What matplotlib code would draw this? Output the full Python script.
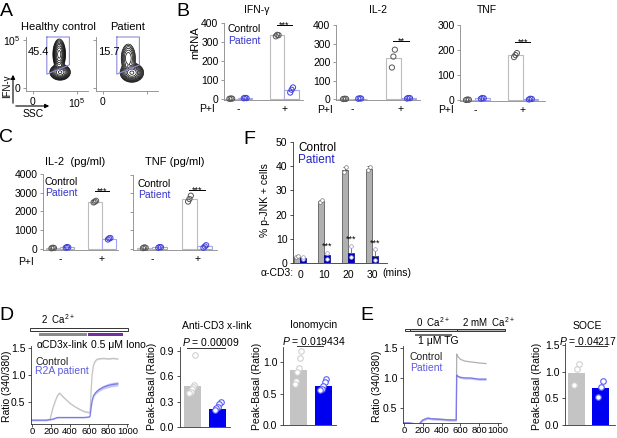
import numpy as np
import matplotlib.pyplot as plt
import matplotlib.transforms as mtransforms
from matplotlib.patches import Rectangle, FancyArrowPatch

plt.rcParams['font.family'] = ['Liberation Sans', 'DejaVu Sans']
plt.rcParams['mathtext.fontset'] = 'custom'
plt.rcParams['mathtext.rm'] = 'Liberation Sans'
plt.rcParams['mathtext.it'] = 'Liberation Sans:italic'
plt.rcParams['mathtext.default'] = 'regular'

# ---------------- data ----------------
# A: flow populations (x centre, y centre, x sd, y sd, fraction), axes 0..1 = 0..10^5
flow_titles = ['Healthy control', 'Patient']
flow_gate_pct = ['45.4', '15.7']
flow_pops = [
    [(0.60, 0.70, 0.045, 0.10, 0.45), (0.62, 0.33, 0.07, 0.05, 0.55)],
    [(0.58, 0.62, 0.06, 0.11, 0.16), (0.66, 0.32, 0.08, 0.06, 0.84)],
]
gate_x = [0.32, 0.83, 0.83, 0.32, 0.32]
gate_y = [1.06, 1.06, 0.48, 0.29, 1.06]

# B: mRNA, stim = P+I - / +
stim = ['-', '+']
ifng_ctrl = [3, 335]
ifng_pat = [6, 47]
ifng_ctrl_pts = [[2, 4, 3], [330, 338, 336]]
ifng_pat_pts = [[5, 7, 6], [35, 50, 62]]
il2m_ctrl = [2, 224]
il2m_pat = [4, 6]
il2m_ctrl_pts = [[1, 3, 2], [171, 230, 267]]
il2m_pat_pts = [[3, 5, 4], [4, 7, 6]]
tnfm_ctrl = [2, 180]
tnfm_pat = [8, 5]
tnfm_ctrl_pts = [[1, 3, 2], [172, 180, 188]]
tnfm_pat_pts = [[6, 9, 8], [3, 6, 5]]

# C: protein (pg/ml)
il2p_ctrl = [50, 2520]
il2p_pat = [80, 540]
il2p_ctrl_pts = [[30, 60, 50], [2480, 2520, 2570]]
il2p_pat_pts = [[60, 100, 80], [500, 560, 580]]
tnfp_ctrl = [60, 2700]
tnfp_pat = [80, 130]
tnfp_ctrl_pts = [[40, 80, 60], [2560, 2700, 2880]]
tnfp_pat_pts = [[60, 100, 90], [60, 130, 200]]

# F: p-JNK
cd3_minutes = ['0', '10', '20', '30']
jnk_ctrl = [2.5, 25.5, 38.5, 39.0]
jnk_ctrl_err = [0.3, 0.5, 1.0, 1.0]
jnk_pat = [2.0, 3.3, 4.0, 2.8]
jnk_pat_err = [0.4, 1.0, 3.0, 2.5]
jnk_ctrl_pts = [[2.3, 2.8], [25.4, 25.9], [37.8, 39.6], [38.3, 39.8]]
jnk_pat_pts = [[1.6, 2.3], [1.8, 4.3], [2.6, 7.0], [1.3, 5.6]]
jnk_sig_y = [7.0, 10.0, 8.3]

# D: Ca2+ trace, anti-CD3 then ionomycin
d_time = [0, 50, 100, 150, 190, 220, 250, 270, 290, 310, 350, 400, 450, 500,
          550, 600, 610, 620, 630, 645, 660, 680, 700, 750, 800, 850, 900]
d_ctrl = [0.17, 0.17, 0.17, 0.17, 0.19, 0.40, 0.55, 0.63, 0.67, 0.63, 0.56,
          0.48, 0.42, 0.37, 0.33, 0.31, 0.34, 0.70, 1.00, 1.18, 1.25, 1.29,
          1.30, 1.31, 1.30, 1.31, 1.30]
d_pat = [0.17, 0.17, 0.17, 0.17, 0.18, 0.19, 0.21, 0.22, 0.22, 0.22, 0.22,
         0.22, 0.22, 0.22, 0.22, 0.23, 0.25, 0.40, 0.52, 0.62, 0.66, 0.70,
         0.73, 0.78, 0.81, 0.83, 0.84]
d_ctrl_sem = 0.015
d_pat_sem = [0.01] * 16 + [0.01, 0.02, 0.025, 0.03, 0.03, 0.03, 0.035, 0.035,
                           0.04, 0.04, 0.04]
d_cd3_window = (75, 580)
d_iono_window = (590, 955)
d_bath_window = (-20, 1005)

anti_cd3 = [0.49, 0.21]
anti_cd3_pts = [[0.85, 0.50, 0.47, 0.45, 0.42, 0.40], [0.30, 0.27, 0.24, 0.22, 0.20]]
iono = [0.87, 0.62]
iono_pts = [[1.18, 1.07, 0.90, 0.85, 0.70, 0.65], [0.73, 0.69, 0.62, 0.58, 0.55]]

# E: TG store depletion then 2 mM Ca2+
e_time = [0, 50, 100, 130, 160, 200, 250, 300, 400, 500, 555, 560, 570,
          600, 650, 700, 750, 800, 870]
e_ctrl = [0.25, 0.25, 0.24, 0.22, 0.23, 0.30, 0.33, 0.32, 0.31, 0.30, 0.30,
          1.40, 1.36, 1.31, 1.28, 1.27, 1.26, 1.25, 1.24]
e_pat = [0.25, 0.25, 0.24, 0.22, 0.23, 0.30, 0.33, 0.32, 0.31, 0.30, 0.30,
         1.05, 1.03, 1.01, 1.00, 1.00, 0.99, 0.98, 0.98]
e_pat_sem = 0.02
e_free_window = (10, 64)
e_zero_ca_window = (64, 560)
e_ca_window = (560, 1074)
e_tg_window = (122, 511)

soce = [0.97, 0.70]
soce_pts = [[1.15, 1.05, 0.75], [0.82, 0.72, 0.52]]

# ---------------- styling ----------------
CTRL_EDGE = '#bcbcbc'
PAT_EDGE = '#a6a6ec'
CTRL_PT = '#555555'
PAT_PT = '#4040d8'
PAT_TXT = '#3535cc'
GRAY_BAR = '#c4c4c4'
BLUE_BAR = '#0000f0'

W, H = 617, 438
fig = plt.figure(figsize=(W / 100, H / 100), dpi=100)
pix = mtransforms.Affine2D().scale(1 / W, -1 / H).translate(0, 1) + fig.transFigure


def px_axes(x0, y0, x1, y1):
    return fig.add_axes([x0 / W, 1 - y1 / H, (x1 - x0) / W, (y1 - y0) / H])


def ptext(x, y, s, size=7, ha='center', va='center', **kw):
    fig.text(x / W, 1 - y / H, s, fontsize=size, ha=ha, va=va, **kw)


def style(ax, color='#555555', labelsize=6.5):
    for s in ['top', 'right']:
        ax.spines[s].set_visible(False)
    for s in ['left', 'bottom']:
        ax.spines[s].set_color(color)
        ax.spines[s].set_linewidth(0.6)
    ax.tick_params(labelsize=labelsize, length=2.5, width=0.6, color=color, pad=1.5)


# panel letters
for letter, (lx, ly) in zip('ABCFDE', [(6, 12), (183, 12), (6, 137), (249, 140),
                                      (6, 316), (367, 316)]):
    ptext(lx, ly, letter, size=14)

# ---------------- A ----------------
gx = np.linspace(-0.15, 1.25, 240)
gy = np.linspace(-0.06, 1.06, 240)
GX, GY = np.meshgrid(gx, gy)
for k, x0 in enumerate([26, 96]):
    ax = px_axes(x0, 37, x0 + 62, 91)
    Z = np.zeros_like(GX)
    for cx, cy, sx, sy, f in flow_pops[k]:
        Z += f / (sx * sy) * np.exp(-((GX - cx) ** 2 / (2 * sx ** 2) + (GY - cy) ** 2 / (2 * sy ** 2)))
    levels = Z.max() * np.geomspace(0.004, 0.85, 10)
    ax.contour(GX, GY, Z, levels, colors='k', linewidths=0.5)
    ax.plot(gate_x, gate_y, color='#8c8cdc', lw=0.8, clip_on=False)
    ax.set_xlim(-0.15, 1.25)
    ax.set_ylim(-0.06, 1.06)
    style(ax, color='#888888')
    ax.set_xticks([0, 1])
    ax.set_yticks([0, 1])
    ax.set_xticklabels(['0', '10$^5$'] if k == 0 else ['0', ''], fontsize=7.5)
    ax.set_yticklabels(['0', '10$^5$'] if k == 0 else ['', ''], fontsize=7.5)
    ptext(x0 + 32, 27, flow_titles[k], size=8)
    ptext(x0 + 2, 52, flow_gate_pct[k], size=8, ha='left')

fig.add_artist(FancyArrowPatch((13, 106), (13, 72), arrowstyle='-|>', mutation_scale=6,
                               lw=0.8, color='k', transform=pix))
fig.add_artist(FancyArrowPatch((13, 106), (52, 106), arrowstyle='-|>', mutation_scale=6,
                               lw=0.8, color='k', transform=pix))
ptext(7, 86, 'IFN-γ', size=7, rotation=90)
ptext(33, 114, 'SSC', size=7.5)


# ---------------- B / C ----------------
def cyto_panel(ax, ctrl, pat, ctrl_pts, pat_pts, ylim, yticks, sig, sig_y, w=0.31,
               xlim=(-0.3, 1.4), ticklabels=True):
    x = np.arange(len(stim))
    ax.bar(x - w / 2, ctrl, w, color='white', edgecolor=CTRL_EDGE, lw=0.8, zorder=2)
    ax.bar(x + w / 2, pat, w, color='white', edgecolor=PAT_EDGE, lw=0.8, zorder=2)
    for i in x:
        off = np.linspace(-0.03, 0.03, len(ctrl_pts[i]))
        ax.scatter(i - w / 2 + off, ctrl_pts[i], s=14, facecolors='none',
                   edgecolors=CTRL_PT, lw=0.7, zorder=3, clip_on=False)
        off = np.linspace(-0.03, 0.03, len(pat_pts[i]))
        ax.scatter(i + w / 2 + off, pat_pts[i], s=14, facecolors='none',
                   edgecolors=PAT_PT, lw=0.7, zorder=3, clip_on=False)
    ax.plot([1 - w / 2, 1 + w / 2], [sig_y, sig_y], color='k', lw=0.7, clip_on=False)
    ax.text(1, sig_y, sig, ha='center', va='center', fontsize=6.5)
    ax.set_xlim(*xlim)
    ax.set_ylim(*ylim)
    ax.set_yticks(yticks)
    ax.set_xticks(x)
    ax.set_xticklabels(stim, fontsize=7.5)
    style(ax, color='#888888', labelsize=7.5)
    ax.tick_params(axis='x', length=0, pad=3)
    if not ticklabels:
        ax.set_yticklabels([])


ax = px_axes(224, 23, 303, 100)
cyto_panel(ax, ifng_ctrl, ifng_pat, ifng_ctrl_pts, ifng_pat_pts, (-4, 400),
           [0, 100, 200, 300, 400], '***', 390)
ptext(257, 10, 'IFN-γ', size=7.5)
ptext(195, 43, 'mRNA', size=8, rotation=90)
ptext(207, 109, 'P+I', size=7.5)
ptext(228, 29, 'Control', size=7.5, ha='left')
ptext(228, 41, 'Patient', size=7.5, ha='left', color=PAT_TXT)

ax = px_axes(336, 25, 420, 100)
cyto_panel(ax, il2m_ctrl, il2m_pat, il2m_ctrl_pts, il2m_pat_pts, (-4, 400),
           [0, 100, 200, 300, 400], '**', 315, xlim=(-0.33, 1.39))
ptext(378, 10, 'IL-2', size=7.5)
ptext(325, 110, 'P+I', size=7.5)

ax = px_axes(460, 25, 545, 101)
cyto_panel(ax, tnfm_ctrl, tnfm_pat, tnfm_ctrl_pts, tnfm_pat_pts, (-3, 300),
           [0, 100, 200, 300], '***', 233, xlim=(-0.31, 1.46))
ptext(487, 10, 'TNF', size=7.5)
ptext(446, 110, 'P+I', size=7.5)

ax = px_axes(43, 174, 118, 250)
cyto_panel(ax, il2p_ctrl, il2p_pat, il2p_ctrl_pts, il2p_pat_pts, (-60, 4000),
           [0, 1000, 2000, 3000, 4000], '***', 3100, w=0.34, xlim=(-0.4, 1.38))
ptext(75, 162, 'IL-2  (pg/ml)', size=8)
ptext(26, 262, 'P+I', size=7.5)
ptext(45, 182, 'Control', size=7.5, ha='left')
ptext(45, 193, 'Patient', size=7.5, ha='left', color=PAT_TXT)

ax = px_axes(133, 175, 217, 250)
cyto_panel(ax, tnfp_ctrl, tnfp_pat, tnfp_ctrl_pts, tnfp_pat_pts, (-60, 4000),
           [0, 1000, 2000, 3000, 4000], '***', 3200, w=0.34, xlim=(-0.42, 1.44),
           ticklabels=False)
ptext(175, 162, 'TNF (pg/ml)', size=8)
ptext(138, 184, 'Control', size=7.5, ha='left')
ptext(138, 195, 'Patient', size=7.5, ha='left', color=PAT_TXT)

# ---------------- F ----------------
ax = px_axes(293, 142, 387, 263)
x = np.arange(len(cd3_minutes))
bw = 0.25
ax.bar(x - 0.13, jnk_ctrl, bw, color='#b0b0b0', edgecolor='#444444', lw=0.5, zorder=2)
ax.bar(x + 0.13, jnk_pat, bw, color='#0000c8', edgecolor='#000080', lw=0.5, zorder=2)
ax.errorbar(x - 0.13, jnk_ctrl, yerr=[np.zeros(4), jnk_ctrl_err], fmt='none',
            ecolor='#444444', elinewidth=0.6, capsize=1.2, capthick=0.6, zorder=3)
ax.errorbar(x + 0.13, jnk_pat, yerr=[np.zeros(4), jnk_pat_err], fmt='none',
            ecolor='#666666', elinewidth=0.6, capsize=1.2, capthick=0.6, zorder=3)
for i in x:
    ax.scatter(np.full(2, i - 0.13) + [-0.03, 0.03], jnk_ctrl_pts[i], s=7,
               facecolors='white', edgecolors='#777777', lw=0.5, zorder=4)
    ax.scatter(np.full(2, i + 0.13), jnk_pat_pts[i], s=7,
               facecolors='white', edgecolors='#9999cc', lw=0.5, zorder=4)
for i, yv in zip(x[1:], jnk_sig_y):
    ax.text(i + 0.13, yv, '***', ha='center', va='center', fontsize=6.5)
ax.set_xlim(-0.3, 3.62)
ax.set_ylim(0, 50)
ax.set_yticks([0, 10, 20, 30, 40, 50])
ax.set_xticks(x)
ax.set_xticklabels(cd3_minutes)
style(ax, color='#333333', labelsize=7.5)
ax.tick_params(axis='x', length=0, pad=5)
ptext(265, 200, '% p-JNK + cells', size=7.5, rotation=90)
ptext(298, 148, 'Control', size=8.5, ha='left')
ptext(298, 160, 'Patient', size=8.5, ha='left', color='#2222cc')
ptext(277, 273, 'α-CD3:', size=7.5)
ptext(397, 273, '(mins)', size=7.5)

# ---------------- D ----------------
ax = px_axes(31, 346, 128, 424)
ax.fill_between(d_time, np.array(d_ctrl) - d_ctrl_sem, np.array(d_ctrl) + d_ctrl_sem,
                color='#e4e4e4', lw=0)
ax.plot(d_time, d_ctrl, color='#c4c4c4', lw=0.9)
ax.fill_between(d_time, np.array(d_pat) - np.array(d_pat_sem),
                np.array(d_pat) + np.array(d_pat_sem), color='#c6c6f4', lw=0)
ax.plot(d_time, d_pat, color='#7a7aea', lw=0.9)
ax.set_xlim(-10, 1007)
ax.set_ylim(0.1, 1.537)
ax.set_yticks([0.5, 1.0, 1.5])
ax.set_xticks(range(0, 1001, 200))
style(ax, color='#333333', labelsize=7.5)
ax.tick_params(axis='x', pad=0.5, length=2, labelsize=6.8)
tr = mtransforms.blended_transform_factory(ax.transData, ax.transAxes)
b0, b1 = d_bath_window
ax.add_patch(Rectangle((b0, 1.19), b1 - b0, 0.04, transform=tr, facecolor='white',
                       edgecolor='#333333', lw=0.7, clip_on=False))
c0, c1 = d_cd3_window
ax.add_patch(Rectangle((c0, 1.125), c1 - c0, 0.04, transform=tr, facecolor='#8a8a8a',
                       edgecolor='none', clip_on=False))
i0, i1 = d_iono_window
ax.add_patch(Rectangle((i0, 1.125), i1 - i0, 0.04, transform=tr, facecolor='#7030a0',
                       edgecolor='none', clip_on=False))
ptext(58, 319, '2  Ca$^{2+}$', size=7)
ptext(62, 345, 'αCD3x-link', size=7.5)
ptext(118, 345, '0.5 μM Iono', size=7.5)
ptext(35, 362, 'Control', size=7.5, ha='left', color='#222222')
ptext(35, 371, 'R2A patient', size=7.5, ha='left', color='#5c5ce0')
ptext(7, 386, 'Ratio (340/380)', size=7.5, rotation=90)


def ratio_bars(ax, means, pts, ylim, yticks, xlim, p_x, p_y):
    x = np.arange(2)
    ax.bar(x, means, 0.68, color=[GRAY_BAR, BLUE_BAR], zorder=1)
    for i, p in enumerate(pts):
        off = np.linspace(0.12, -0.12, len(p))
        ax.scatter(i + off, p, s=16, facecolors='white',
                   edgecolors=['#d0d0d0', '#5a5aff'][i], lw=0.8, zorder=3, clip_on=False)
    ax.plot(p_x, [p_y, p_y], color='#333333', lw=0.7, clip_on=False)
    ax.set_xlim(*xlim)
    ax.set_ylim(*ylim)
    ax.set_yticks(yticks)
    ax.set_xticks([])
    style(ax, color='#333333', labelsize=7.5)


ax = px_axes(180, 347, 230, 427)
ratio_bars(ax, anti_cd3, anti_cd3_pts, (0, 0.947), [0.0, 0.3, 0.6, 0.9],
           (-0.5, 1.5), [-0.22, 1.3], 0.935)
ptext(217, 326, 'Anti-CD3 x-link', size=7.5)
ptext(211, 342, '$\\mathit{P}$ = 0.00009', size=7.5)
ptext(152, 386, 'Peak-Basal (Ratio)', size=7.5, rotation=90)

ax = px_axes(283, 347, 336, 425)
ratio_bars(ax, iono, iono_pts, (0, 1.24), [0.0, 0.5, 1.0], (-0.6, 1.52),
           [-0.04, 1.0], 1.25)
ptext(314, 325, 'Ionomycin', size=7.5)
ptext(314, 341, '$\\mathit{P}$ = 0.019434', size=7.5)
ptext(257, 386, 'Peak-Basal (Ratio)', size=7.5, rotation=90)

# ---------------- E ----------------
ax = px_axes(403, 346, 501, 423)
ax.plot(e_time, e_ctrl, color='#b0b0b0', lw=0.9)
ax.fill_between(e_time, np.array(e_pat) - e_pat_sem, np.array(e_pat) + e_pat_sem,
                color='#cacaf4', lw=0)
ax.plot(e_time, e_pat, color='#7a7aea', lw=0.9)
ax.set_xlim(-10, 1030)
ax.set_ylim(0.25, 1.533)
ax.set_yticks([0.5, 1.0, 1.5])
ax.set_xticks(range(0, 1001, 200))
style(ax, color='#333333', labelsize=7.5)
ax.tick_params(axis='x', pad=0.5, length=2, labelsize=6.8)
tr = mtransforms.blended_transform_factory(ax.transData, ax.transAxes)
for (a, b), fc in zip([e_free_window, e_zero_ca_window, e_ca_window],
                      ['white', '#cfcfcf', '#b4b4b4']):
    ax.add_patch(Rectangle((a, 1.19), b - a, 0.035, transform=tr, facecolor=fc,
                           edgecolor='#333333', lw=0.7, clip_on=False))
t0, t1 = e_tg_window
ax.add_patch(Rectangle((t0, 1.125), t1 - t0, 0.035, transform=tr, facecolor='#6e6e6e',
                       edgecolor='none', clip_on=False))
ptext(433, 322, '0  Ca$^{2+}$', size=7)
ptext(488, 322, '2 mM  Ca$^{2+}$', size=7)
ptext(438, 341, '1 μM TG', size=7.5)
ptext(410, 357, 'Control', size=7.5, ha='left', color='#222222')
ptext(410, 368, 'Patient', size=7.5, ha='left', color='#5c5ce0')
ptext(377, 386, 'Ratio (340/380)', size=7.5, rotation=90)

ax = px_axes(565, 343, 615, 425)
ratio_bars(ax, soce, soce_pts, (0, 1.54), [0.0, 0.5, 1.0, 1.5], (-0.48, 1.6),
           [-0.06, 1.27], 1.48)
ptext(587, 326, 'SOCE', size=7.5)
ptext(588, 341, '$\\mathit{P}$ = 0.04217', size=7.5)
ptext(537, 386, 'Peak-Basal (Ratio)', size=7.5, rotation=90)

fig.savefig('out.png', dpi=100)
